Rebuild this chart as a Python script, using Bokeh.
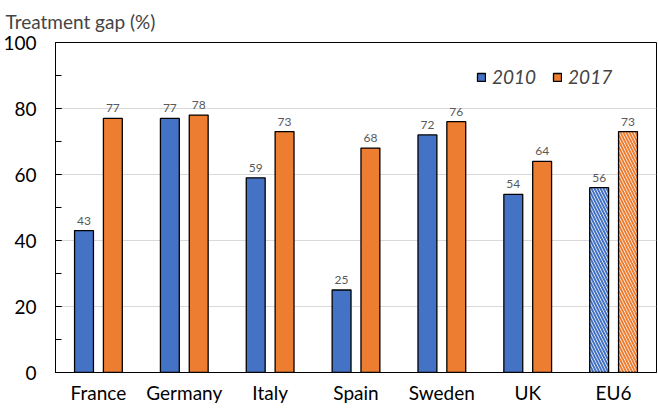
from bokeh.plotting import figure
from bokeh.models import (ColumnDataSource, FactorRange, Range1d, SingleIntervalTicker,
                          LabelSet, Legend, LegendItem)
from bokeh.core.properties import value
from bokeh.transform import dodge
from bokeh.embed import file_html
from bokeh.resources import INLINE

categories = ["France", "Germany", "Italy", "Spain", "Sweden", "UK", "EU6"]
values_2010 = [43, 77, 59, 25, 72, 54, 56]
values_2017 = [77, 78, 73, 68, 76, 64, 73]
series_names = ["2010", "2017"]
hatched_category = "EU6"
title_text = "Treatment gap (%)"

BLUE = "#4472C4"
ORANGE = "#ED7D31"
FONT = "Lato"

def make_source(vals, color):
    fills = ["white" if c == hatched_category else color for c in categories]
    hatches = ["\\" if c == hatched_category else " " for c in categories]
    return ColumnDataSource(dict(x=categories, y=vals, label=[str(v) for v in vals],
                                 fill=fills, hatch=hatches))

src10 = make_source(values_2010, BLUE)
src17 = make_source(values_2017, ORANGE)

p = figure(x_range=FactorRange(*categories, range_padding=0), y_range=Range1d(0, 100),
           width=658, height=410, output_backend="svg", toolbar_location=None,
           min_border_left=52, min_border_right=2, min_border_top=42, min_border_bottom=38)

p.outline_line_color = "black"
p.outline_line_width = 1
p.background_fill_color = "white"
p.border_fill_color = "white"

off = 0.168
bw = 0.22
r10 = p.vbar(x=dodge("x", -off, range=p.x_range), top="y", width=bw, source=src10,
             fill_color="fill", line_color="black", line_width=1.3,
             hatch_pattern="hatch", hatch_color=BLUE, hatch_scale=6, hatch_weight=2)
r17 = p.vbar(x=dodge("x", off, range=p.x_range), top="y", width=bw, source=src17,
             fill_color="fill", line_color="black", line_width=1.3,
             hatch_pattern="hatch", hatch_color=ORANGE, hatch_scale=6, hatch_weight=2)

for src, d in ((src10, -off), (src17, off)):
    p.add_layout(LabelSet(x=dodge("x", d, range=p.x_range), y="y", text="label", source=src,
                          text_align="center", text_baseline="bottom", y_offset=6,
                          text_font=value(FONT), text_font_size="12px",
                          text_color="#595959"))

# axes
p.yaxis.ticker = SingleIntervalTicker(interval=20, num_minor_ticks=2)
p.yaxis.major_tick_in = 6
p.yaxis.major_tick_out = 0
p.yaxis.minor_tick_in = 6
p.yaxis.minor_tick_out = 0
p.yaxis.major_label_text_font = FONT
p.yaxis.major_label_text_font_size = "19px"
p.yaxis.major_label_text_color = "black"
p.yaxis.major_label_standoff = 19
p.yaxis.axis_line_color = "black"

p.xaxis.major_tick_line_color = None
p.xaxis.minor_tick_line_color = None
p.xaxis.major_label_text_font = FONT
p.xaxis.major_label_text_font_size = "19px"
p.xaxis.major_label_text_color = "black"
p.xaxis.major_label_standoff = 2
p.xaxis.axis_line_color = "black"

p.xgrid.grid_line_color = None
p.ygrid.grid_line_color = "#D9D9D9"
p.ygrid.grid_line_width = 1

p.title.text = title_text
p.title.text_font = FONT
p.title.text_font_size = "19px"
p.title.text_font_style = "normal"
p.title.vertical_align = "top"
p.title.align = "left"
p.title.offset = -50
p.title.standoff = 16

legend = Legend(items=[LegendItem(label=series_names[0], renderers=[r10], index=0),
                       LegendItem(label=series_names[1], renderers=[r17], index=0)],
                orientation="horizontal", location=(421, 284),
                label_text_font=FONT, label_text_font_size="19px",
                label_text_font_style="italic",
                glyph_width=10, glyph_height=10, spacing=16, padding=0, margin=0,
                label_standoff=6,
                border_line_alpha=0, background_fill_alpha=0)
p.add_layout(legend)

open("out.html", "w").write(file_html(p, INLINE))
